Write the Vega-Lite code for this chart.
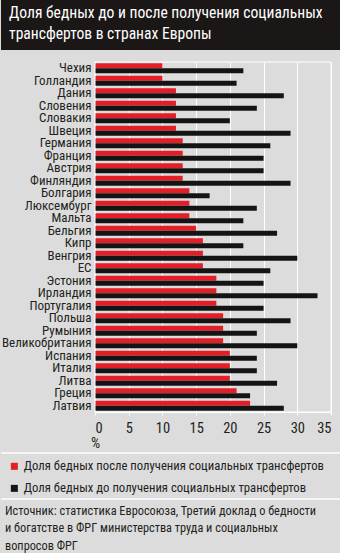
{
  "$schema": "https://vega.github.io/schema/vega-lite/v6.json",
  "background": "#dcdcdc",
  "padding": 0,
  "config": {
    "font": "Roboto Condensed",
    "view": {"stroke": null}
  },
  "concat": [
    {
      "width": 340,
      "height": 50,
      "view": {"fill": "#1b1716", "stroke": null},
      "data": {"values": [{"t": ["Доля бедных до и после получения социальных", "трансфертов в странах Европы"]}]},
      "mark": {"type": "text", "align": "left", "baseline": "alphabetic", "color": "white", "fontSize": 15.6, "lineHeight": 21.5, "dx": 8, "dy": 17.5},
      "encoding": {
        "text": {"field": "t"},
        "x": {"datum": 0, "type": "quantitative", "scale": {"domain": [0, 1]}, "axis": null},
        "y": {"datum": 1, "type": "quantitative", "scale": {"domain": [0, 1]}, "axis": null}
      }
    },
    {
      "concat": [
        {
          "width": 340,
          "height": 350,
          "layer": [
            {
              "data": {"values": [
                {"country": "Чехия", "после": 10, "до": 22},
                {"country": "Голландия", "после": 10, "до": 21},
                {"country": "Дания", "после": 12, "до": 28},
                {"country": "Словения", "после": 12, "до": 24},
                {"country": "Словакия", "после": 12, "до": 20},
                {"country": "Швеция", "после": 12, "до": 29},
                {"country": "Германия", "после": 13, "до": 26},
                {"country": "Франция", "после": 13, "до": 25},
                {"country": "Австрия", "после": 13, "до": 25},
                {"country": "Финляндия", "после": 13, "до": 29},
                {"country": "Болгария", "после": 14, "до": 17},
                {"country": "Люксембург", "после": 14, "до": 24},
                {"country": "Мальта", "после": 14, "до": 22},
                {"country": "Бельгия", "после": 15, "до": 27},
                {"country": "Кипр", "после": 16, "до": 22},
                {"country": "Венгрия", "после": 16, "до": 30},
                {"country": "ЕС", "после": 16, "до": 26},
                {"country": "Эстония", "после": 18, "до": 25},
                {"country": "Ирландия", "после": 18, "до": 33},
                {"country": "Португалия", "после": 18, "до": 25},
                {"country": "Польша", "после": 19, "до": 29},
                {"country": "Румыния", "после": 19, "до": 24},
                {"country": "Великобритания", "после": 19, "до": 30},
                {"country": "Испания", "после": 20, "до": 24},
                {"country": "Италия", "после": 20, "до": 24},
                {"country": "Литва", "после": 20, "до": 27},
                {"country": "Греция", "после": 21, "до": 23},
                {"country": "Латвия", "после": 23, "до": 28}
              ]},
              "transform": [{"fold": ["после", "до"], "as": ["series", "value"]}],
              "mark": {"type": "bar"},
              "encoding": {
                "y": {
                  "field": "country", "type": "nominal", "sort": null,
                  "scale": {"paddingInner": 0.2, "paddingOuter": 0.1},
                  "axis": {"title": null, "ticks": false, "domain": false, "grid": false, "labelFontSize": 13, "labelColor": "#231f20", "labelPadding": 0, "offset": -90, "labelLimit": 200}
                },
                "yOffset": {"field": "series", "type": "nominal", "sort": ["после", "до"], "scale": {"paddingInner": 0, "paddingOuter": 0}},
                "x": {
                  "field": "value", "type": "quantitative",
                  "scale": {"domain": [0, 35], "range": [94, 330], "nice": false},
                  "axis": {
                    "values": [0, 5, 10, 15, 20, 25, 30, 35],
                    "grid": true, "gridColor": "white", "gridOpacity": 1, "gridWidth": 1,
                    "domainColor": "white", "tickColor": "white", "tickSize": 3,
                    "labelFontSize": 14.5, "labelColor": "#231f20", "labelPadding": 6,
                    "title": "%", "titleFontWeight": "normal", "titleFontSize": 14.5, "titleColor": "#231f20",
                    "titleAnchor": "start", "titleAlign": "center", "titlePadding": 2
                  }
                },
                "color": {
                  "field": "series", "type": "nominal",
                  "scale": {"domain": ["после", "до"], "range": ["#e31e26", "#141414"]},
                  "legend": null
                }
              }
            },
            {
              "data": {"values": [{}]},
              "mark": {"type": "rect", "filled": false, "stroke": "white", "strokeWidth": 1},
              "encoding": {
                "x": {"datum": 0, "type": "quantitative"},
                "x2": {"datum": 35}
              }
            }
          ]
        },
        {
          "width": 340,
          "height": 46,
          "title": {
            "text": ["Источник: статистика Евросоюза, Третий доклад о бедности", "и богатстве в ФРГ министерства труда и социальных", "вопросов ФРГ"],
            "orient": "bottom", "anchor": "start", "frame": "group",
            "fontSize": 12.3, "fontWeight": "normal", "color": "#231f20", "lineHeight": 17.5, "offset": 5, "dx": 4
          },
          "layer": [
            {
              "data": {"values": [{"sep": "top"}, {"sep": "bottom"}]},
              "mark": {"type": "rule", "color": "white", "strokeWidth": 1.5},
              "encoding": {
                "y": {"field": "sep", "type": "nominal", "sort": null, "scale": {"type": "point", "padding": 0}, "axis": null}
              }
            },
            {
              "data": {"values": [
                {"series": "Доля бедных после получения социальных трансфертов"},
                {"series": "Доля бедных до получения социальных трансфертов"}
              ]},
              "mark": {"type": "point", "filled": true, "opacity": 0},
              "encoding": {
                "color": {
                  "field": "series", "type": "nominal",
                  "scale": {"domain": ["Доля бедных после получения социальных трансфертов", "Доля бедных до получения социальных трансфертов"], "range": ["#e31e26", "#141414"]},
                  "legend": {
                    "title": null, "orient": "none", "legendX": 7, "legendY": 7, "direction": "vertical",
                    "symbolType": "square", "symbolSize": 49, "symbolOpacity": 1, "symbolStrokeWidth": 0,
                    "labelFontSize": 12.7, "labelColor": "#231f20", "labelOffset": 3, "rowPadding": 8, "labelLimit": 400, "padding": 0
                  }
                }
              }
            }
          ]
        }
      ],
      "columns": 1,
      "spacing": 2,
      "align": "none",
      "resolve": {"scale": {"color": "independent"}, "legend": {"color": "independent"}}
    }
  ],
  "columns": 1,
  "spacing": 11,
  "align": "none",
  "resolve": {"scale": {"color": "independent"}, "legend": {"color": "independent"}}
}
